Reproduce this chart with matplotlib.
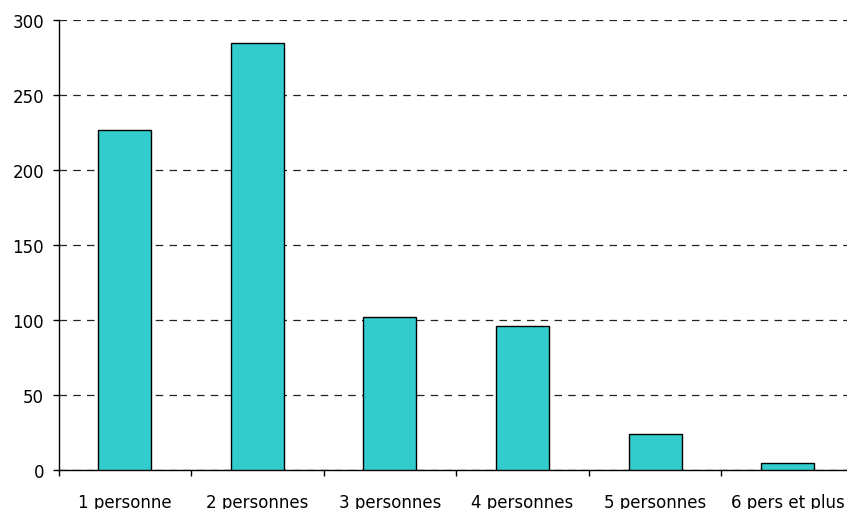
import matplotlib
matplotlib.use("Agg")
import matplotlib.pyplot as plt

categories = ["1 personne", "2 personnes", "3 personnes", "4 personnes", "5 personnes", "6 pers et plus"]
values = [227, 285, 102, 96, 24, 5]
yticks = [0, 50, 100, 150, 200, 250, 300]

plt.rcParams['font.family'] = ['DejaVu Sans']

fig = plt.figure(figsize=(8.47, 5.10), dpi=100)
W, H = 847, 510
x0, x1 = 58.5, 854.0
y0, y1 = 471.0, 21.0
ax = fig.add_axes([x0 / W, (H - y0) / H, (x1 - x0) / W, (y0 - y1) / H])

xs = list(range(len(categories)))
ax.bar(xs, values, width=0.40, color="#33CCCC", edgecolor="black", linewidth=1.0, zorder=3)

ax.set_xlim(-0.5, len(categories) - 0.5)
ax.set_ylim(0, 300)
ax.set_yticks(yticks)
ax.set_yticklabels([str(v) for v in yticks])
ax.yaxis.grid(True, linestyle=(0, (6, 5)), color="#222222", linewidth=0.9, zorder=0)
ax.set_axisbelow(True)

# category boundary ticks on x axis, labels at centers
ax.set_xticks([i - 0.5 for i in range(len(categories) + 1)])
ax.set_xticklabels([])
ax.set_xticks(xs, minor=True)
ax.set_xticklabels(categories, minor=True)
ax.tick_params(axis='x', which='minor', length=0, pad=16.5, labelsize=12)
ax.tick_params(axis='x', which='major', length=4.5, width=1, direction='out')
ax.tick_params(axis='y', length=4.5, width=1, pad=6, labelsize=12)

for s in ["top", "right"]:
    ax.spines[s].set_visible(False)
ax.spines["left"].set_linewidth(1)
ax.spines["bottom"].set_linewidth(1)

fig.savefig("out.png", dpi=100)
